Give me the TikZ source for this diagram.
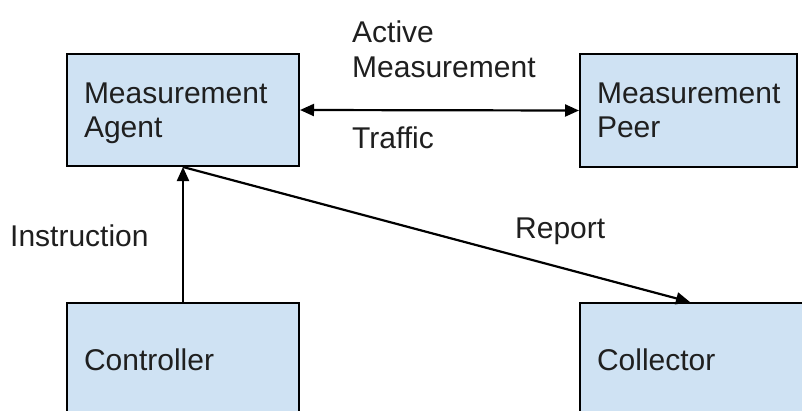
\documentclass[tikz,border=0pt]{standalone}
\usepackage{fontspec}
\setmainfont{Liberation Sans}
\usetikzlibrary{arrows.meta}
\definecolor{boxfill}{HTML}{CFE2F3}
\definecolor{ink}{HTML}{1F1F1F}
\newcommand{\topstrut}{\rule{0pt}{27pt}}
\newcommand{\botstrut}{\vphantom{g}}
\begin{document}
\begin{tikzpicture}[x=1pt,y=-1pt,
  box/.style={draw=black, line width=2pt, fill=boxfill, anchor=north west, align=left,
    inner xsep=17pt, inner ysep=0pt, font=\fontsize{30}{34}\selectfont, text=ink},
  lbl/.style={inner sep=0pt, font=\fontsize{30}{35}\selectfont, text=ink, align=left},
  tip/.tip={Triangle[length=14pt,width=12pt]},
  conn/.style={line width=2.2pt, -tip},
  ]
\useasboundingbox (0,0) rectangle (802,410);
\clip (0,0) rectangle (802,410);
\node[box, minimum width=232pt, minimum height=112pt, text width=198pt] (agent) at (66,53) {\topstrut Measurement\\Agent\botstrut};
\node[box, minimum width=217pt, minimum height=113pt, text width=183pt] (peer) at (579,53) {\topstrut Measurement\\Peer\botstrut};
\node[box, minimum width=232pt, minimum height=114pt, text width=198pt] (ctrl) at (66,302) {\topstrut Controller\botstrut};
\node[box, minimum width=240pt, minimum height=114pt, text width=206pt] (coll) at (579,302) {\topstrut Collector\botstrut};
\draw[conn, tip-tip] (agent.east) -- (peer.west);
\draw[conn] (ctrl.north) -- (agent.south);
\draw[conn] (agent.south) -- ([xshift=111pt]coll.north west);
\node[lbl, anchor=north west] (active) at (352,21) {Active\\Measurement};
\node[lbl, anchor=base west] (traffic) at (352,148) {Traffic};
\node[lbl, anchor=base west] (instr) at (10,246) {Instruction};
\node[lbl, anchor=base west] (report) at (515,238) {Report};
\end{tikzpicture}
\end{document}
